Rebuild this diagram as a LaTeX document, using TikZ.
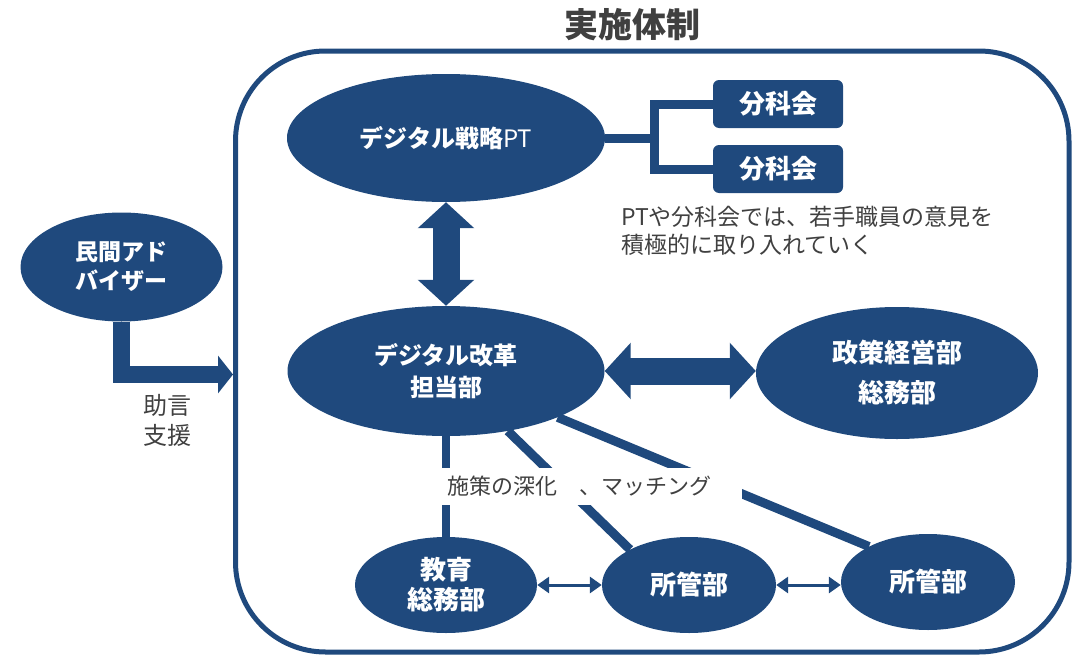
\documentclass[tikz,border=0pt]{standalone}
\usepackage{fontspec}
\setmainfont{Noto Sans CJK JP}
\usetikzlibrary{shapes.geometric,arrows.meta}
\definecolor{dblue}{HTML}{1F497D}
\definecolor{tgray}{HTML}{404040}
\begin{document}
\begin{tikzpicture}[x=1pt,y=-1pt,
  el/.style={ellipse, fill=dblue, draw=none, inner sep=0, text=white, align=center},
  bx/.style={rectangle, rounded corners=6, fill=dblue, inner sep=0, text=white,
    minimum width=130, minimum height=48, font=\fontsize{26}{30}\selectfont\bfseries},
  bigarrow/.style={dblue, line width=27, {Triangle[length=26pt,width=55pt]}-{Triangle[length=26pt,width=55pt]}},
  thinarrow/.style={dblue, line width=3, {Triangle[length=12pt,width=16pt]}-{Triangle[length=12pt,width=16pt]}},
  link/.style={dblue, line width=9},
  gtext/.style={text=tgray, inner sep=0}]
\useasboundingbox (0,0) rectangle (1077,656);

% title
\node[gtext, font=\fontsize{34}{40}\selectfont\bfseries] (title) at (632,25) {実施体制};

% frame
\draw[dblue, line width=5, rounded corners=90] (235.5,51) rectangle (1069,652);

% nodes
\node[el, minimum width=202, minimum height=109, font=\fontsize{23}{29}\selectfont\bfseries] (adv) at (121.5,267) {民間アド\\バイザー};
\node[el, minimum width=318, minimum height=128, font=\fontsize{24}{29}\selectfont\bfseries] (pt) at (446,138) {デジタル戦略{\mdseries PT}};
\node[bx] (bk1) at (778,104) {分科会};
\node[bx] (bk2) at (778,169) {分科会};
\node[el, minimum width=317, minimum height=130, font=\fontsize{24}{32}\selectfont\bfseries] (kk) at (446,371) {デジタル改革\\担当部};
\node[el, minimum width=282, minimum height=132, font=\fontsize{26}{40}\selectfont\bfseries] (ss) at (897,373) {政策経営部\\総務部};
\node[el, minimum width=182, minimum height=96, font=\fontsize{26}{30}\selectfont\bfseries] (ky) at (446,585) {教育\\総務部};
\node[el, minimum width=174, minimum height=96, font=\fontsize{26}{30}\selectfont\bfseries] (s1) at (689,585) {所管部};
\node[el, minimum width=174, minimum height=96, font=\fontsize{26}{30}\selectfont\bfseries] (s2) at (928,582) {所管部};

% bracket to subcommittees
\coordinate (br) at (654,138);
\draw[link, line join=miter] (pt.east) -- (br);
\draw[link, line join=miter] (bk1.west) -| (br) |- (bk2.west);

% advisor arrow
\coordinate (adin) at (233,374.5);
\draw[dblue, line width=17, line join=miter, -{Triangle[length=15pt,width=37pt]}] (adv.south) |- (adin);
\node[gtext, align=center, font=\fontsize{24}{30}\selectfont] (adlbl) at (167,420) {助言\\支援};

% big double arrows
\draw[bigarrow] (pt.south) -- (kk.north);
\draw[bigarrow] (kk.east) -- (kk.east -| ss.west);

% links from the reform department
\draw[dblue, line width=8] (kk.south) -- (ky.north);
\draw[link] (kk) -- (s1.149);
\draw[link] (kk) -- (s2.149);

% small double arrows
\draw[thinarrow] (ky.east) -- (s1.west);
\draw[thinarrow] (s1.east) -- (s1.east -| s2.west);

% label over links
\node[fill=white, inner sep=0, anchor=west, minimum height=37, text=tgray,
  font=\fontsize{22}{26}\selectfont] (lbl) at (438,486.5)
  {\makebox[304pt][l]{\hspace{9pt}施策の深化　、マッチング}};

% comment
\node[gtext, anchor=west, align=left, font=\fontsize{23}{28}\selectfont] (cm) at (621,231)
  {PTや分科会では、若手職員の意見を\\積極的に取り入れていく};
\end{tikzpicture}
\end{document}
